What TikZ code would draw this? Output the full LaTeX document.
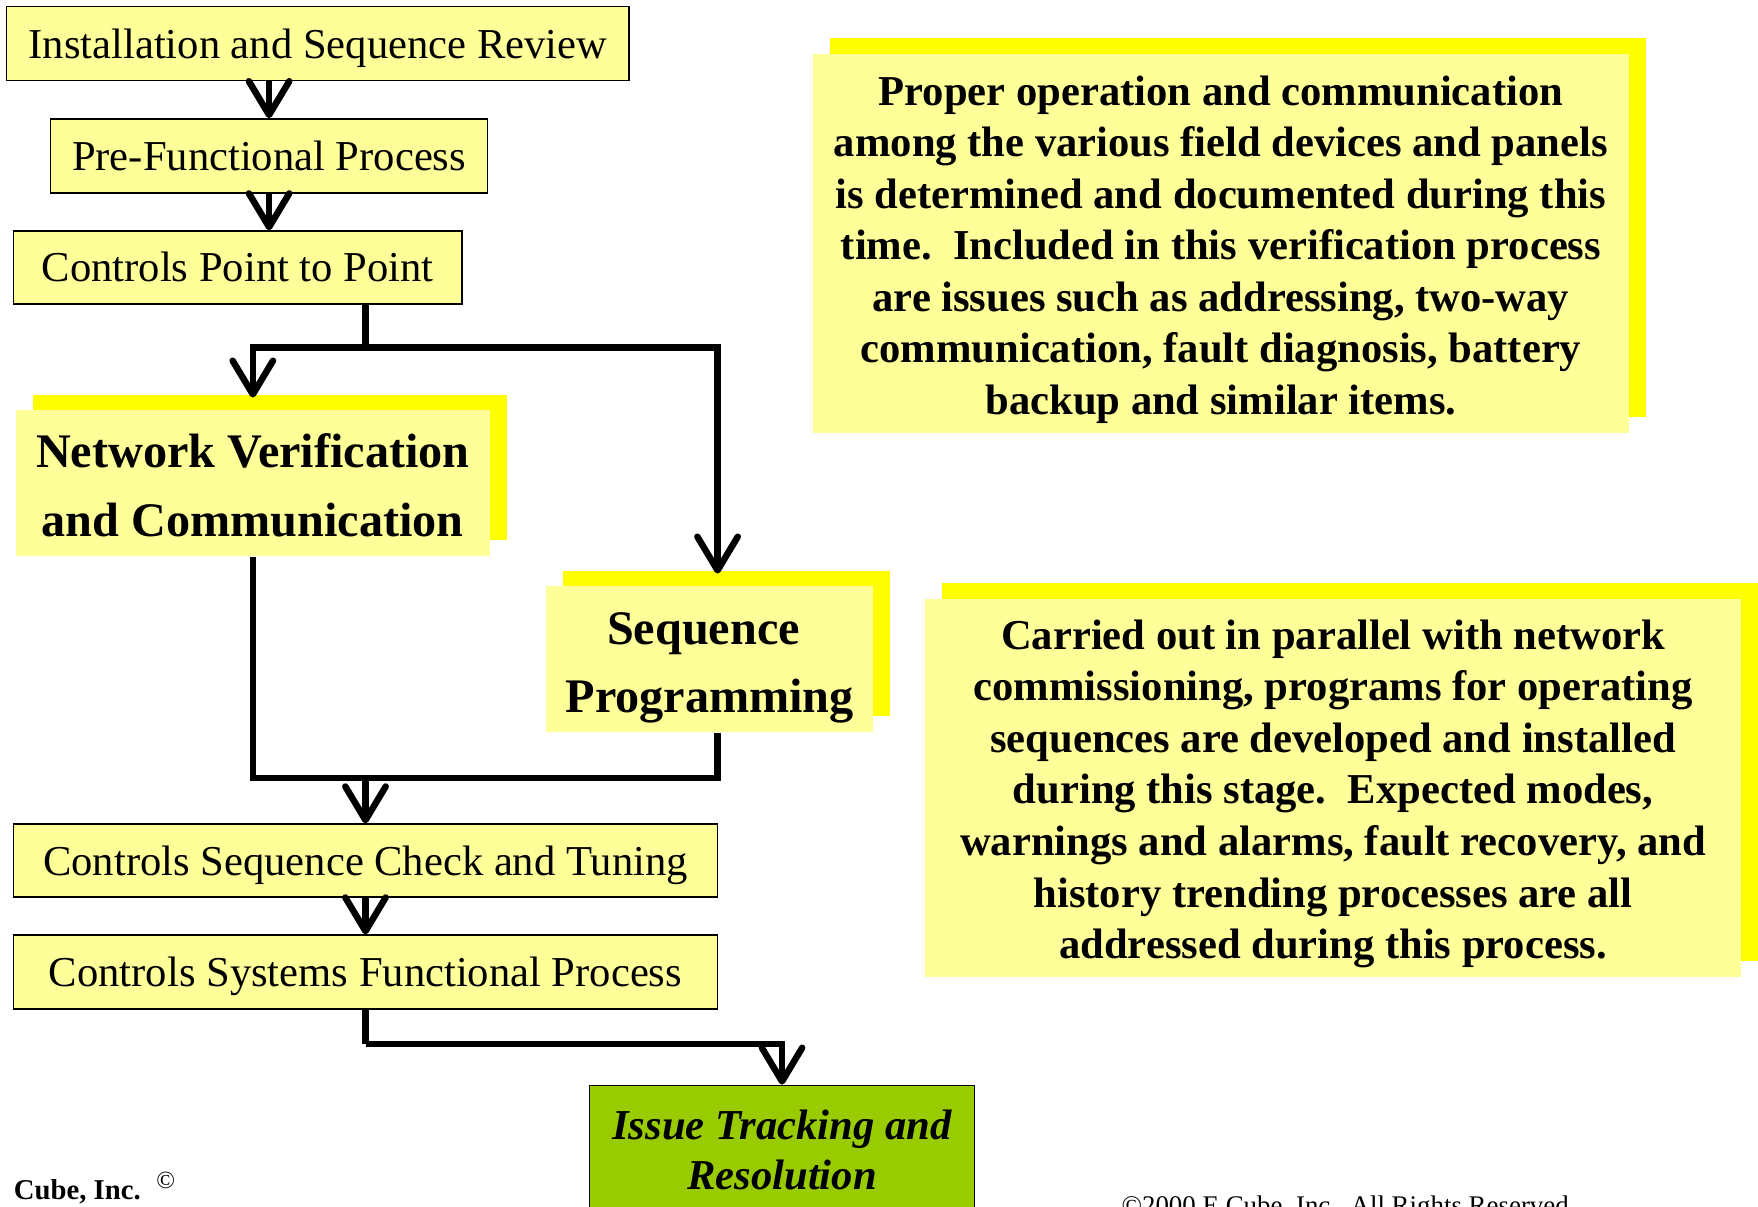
\documentclass[tikz,border=0pt]{standalone}
\usepackage{fontspec}
\setmainfont{Liberation Serif}
\usetikzlibrary{arrows.meta,shadows}
\definecolor{lightyel}{HTML}{FFFF99}
\definecolor{shadyel}{HTML}{FFFF00}
\definecolor{issuegreen}{HTML}{99CC00}
\begin{document}
\begin{tikzpicture}[x=0.5pt,y=-0.5pt,
  plainbox/.style={draw=black, line width=0.6pt, fill=lightyel, inner sep=0pt,
    minimum height=33pt, text height=13pt, text depth=0pt, font=\fontsize{19}{23}\selectfont},
  shadbox/.style={fill=lightyel, inner sep=0pt, align=center,
    general shadow={fill=shadyel, shadow xshift=7.5pt, shadow yshift=7pt}},
  bigbold/.style={font=\fontsize{21.5}{30.5}\selectfont\bfseries, align=center},
  parabold/.style={font=\fontsize{19}{23}\selectfont\bfseries, align=center},
  conn/.style={line width=2.9pt, line join=miter},
  arr/.style={conn, -{Straight Barb[length=15pt,width=18pt,round]}}
]
\useasboundingbox (0,0) rectangle (1568,1076);
\clip (0,0) rectangle (1568,1076);
\fill[white] (0,0) rectangle (1568,1076);

% flow boxes
\node[plainbox, minimum width=277.5pt] (b1) at (283.5,39) {Installation and Sequence Review};
\node[plainbox, minimum width=195pt] (b2) at (240,139) {Pre-Functional Process};
\node[plainbox, minimum width=200pt, minimum height=32.5pt] (b3) at (212,238.5) {Controls Point to Point};
\node[shadbox, minimum width=211.5pt, minimum height=65pt,
  label={[bigbold, yshift=-1pt]center:Network Verification\\and Communication}] (nv) at (225.5,431) {};
\node[shadbox, minimum width=146pt, minimum height=65pt,
  label={[bigbold, yshift=-3.8pt]center:Sequence\hspace*{5.5pt}\\Programming}] (seq) at (633,588) {};
\node[plainbox, minimum width=314pt, minimum height=32.5pt] (b4) at (326,767.5) {Controls Sequence Check and Tuning};
\node[plainbox, minimum width=314pt] (b5) at (326,867) {Controls Systems Functional Process};
\node[draw=black, line width=0.6pt, fill=issuegreen, inner sep=0pt, align=center,
  minimum width=171.5pt, minimum height=57.5pt,
  font=\fontsize{19}{22.5}\selectfont\bfseries\itshape] (iss) at (697.5,1025.5)
  {Issue Tracking and\\Resolution};

% description boxes
\node[shadbox, minimum width=364pt, minimum height=169pt,
  label={[parabold, yshift=-2.8pt]center:Proper operation and communication\\
   among the various field devices and panels\\
   is determined and documented during this\\
   time.\ \ Included in this verification process\\
   are issues such as addressing, two-way\\
   communication, fault diagnosis, battery\\
   backup and similar items.}] (desc1) at (1089,217) {};
\node[shadbox, minimum width=364pt, minimum height=168.5pt,
  label={[parabold, yshift=-2.8pt]center:Carried out in parallel with network\\
   commissioning, programs for operating\\
   sequences are developed and installed\\
   during this stage.\ \ Expected modes,\\
   warnings and alarms, fault recovery, and\\
   history trending processes are all\\
   addressed during this process.}] (desc2) at (1189,702.5) {};

% connectors
\coordinate (split) at (326,310);
\coordinate (join) at (326,694);
\coordinate (join2) at (326,931);
\draw[arr] (b1.south -| b2.north) -- (b2.north);
\draw[arr] (b2.south) -- (b2.south |- b3.north);
\draw[conn] (b3.south -| split) -- (split);
\draw[arr] (split) -| ([yshift=5.5pt]nv.north);
\draw[arr] (split) -| ([xshift=3.5pt,yshift=5.5pt]seq.north);
\draw[conn] (nv.south) |- ([xshift=3.5pt]seq.south |- join) -- ([xshift=3.5pt]seq.south);
\draw[arr] (join) -- (join |- b4.north);
\draw[arr] (b4.south) -- (b5.north);
\draw[conn] (b5.south) -- (join2);
\draw[arr] (join2) -| (iss.north);

% footer texts
\node[anchor=base west, inner sep=0pt, font=\fontsize{12.8}{14}\selectfont\bfseries] (cube) at (12,1070) {Cube, Inc.};
\node[anchor=base west, inner sep=0pt, font=\fontsize{11}{13}\selectfont] (copy) at (139,1060) {©};
\node[anchor=base west, inner sep=0pt, font=\fontsize{12}{14}\selectfont] (rights) at (1000,1083)
  {©2000 E Cube, Inc.\ \ All Rights Reserved};
\end{tikzpicture}
\end{document}
